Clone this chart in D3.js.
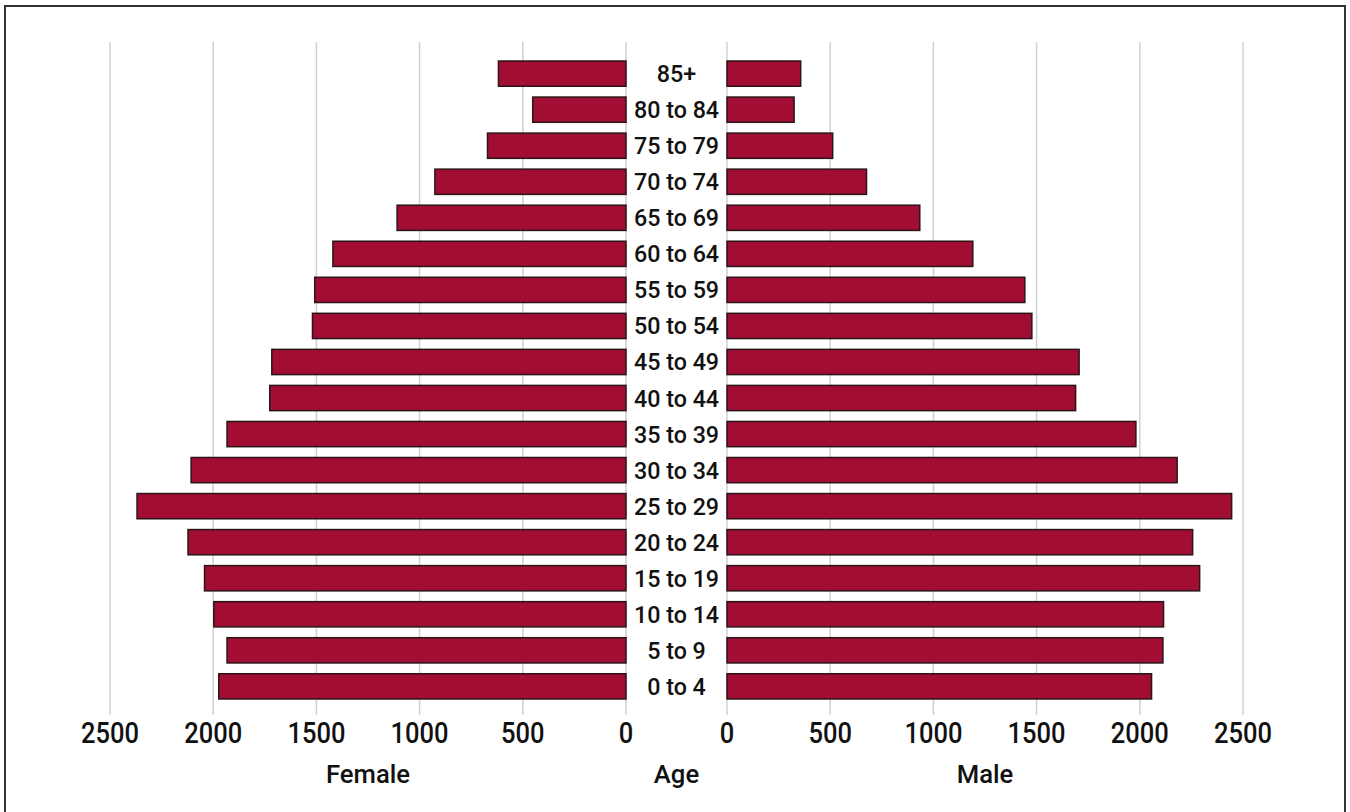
<!DOCTYPE html>
<html>
<head>
<meta charset="utf-8">
<script src="https://cdn.jsdelivr.net/npm/d3@7"></script>
<style>
  html, body { margin: 0; padding: 0; background: #fff; }
  svg { display: block; }
  text { font-family: Roboto, "DejaVu Sans", sans-serif; fill: #111; }
</style>
</head>
<body>
<svg id="chart" width="1350" height="812"></svg>
<script>
// Age groups, oldest first (top of the pyramid)
const ageGroups = ["85+", "80 to 84", "75 to 79", "70 to 74", "65 to 69", "60 to 64",
  "55 to 59", "50 to 54", "45 to 49", "40 to 44", "35 to 39", "30 to 34",
  "25 to 29", "20 to 24", "15 to 19", "10 to 14", "5 to 9", "0 to 4"];

const female = [618, 452, 671, 926, 1109, 1420, 1508, 1519, 1716, 1726,
  1933, 2107, 2369, 2122, 2042, 1997, 1933, 1973];

const male = [357, 325, 512, 676, 934, 1191, 1443, 1477, 1706, 1689,
  1981, 2181, 2445, 2256, 2290, 2115, 2112, 2057];

const tickValues = [0, 500, 1000, 1500, 2000, 2500];

const svg = d3.select("#chart");
const W = 1350, H = 812;

// Outer frame
svg.append("rect")
  .attr("x", 5).attr("y", 6)
  .attr("width", W - 10).attr("height", H + 10)
  .attr("fill", "#fff")
  .attr("stroke", "#333").attr("stroke-width", 2);

const xF = d3.scaleLinear().domain([0, 2500]).range([626, 110]);
const xM = d3.scaleLinear().domain([0, 2500]).range([727, 1243]);
const y = d3.scaleBand().domain(ageGroups).range([43, 717])
  .paddingInner(0.3).paddingOuter(0.5);

const gridTop = 42, gridBottom = 715;

// Vertical gridlines on both halves
[xF, xM].forEach(sc => {
  svg.append("g").selectAll("line")
    .data(tickValues)
    .join("line")
    .attr("x1", d => sc(d)).attr("x2", d => sc(d))
    .attr("y1", gridTop).attr("y2", gridBottom)
    .attr("stroke", "#d0d0d0").attr("stroke-width", 1.5);
});

const barFill = "#a10d33", barStroke = "#2a1518";

// Female bars grow leftwards from zero
svg.append("g").selectAll("rect")
  .data(ageGroups)
  .join("rect")
  .attr("x", (d, i) => xF(female[i]))
  .attr("y", d => y(d))
  .attr("width", (d, i) => xF(0) - xF(female[i]))
  .attr("height", y.bandwidth())
  .attr("fill", barFill).attr("stroke", barStroke).attr("stroke-width", 1.5);

// Male bars grow rightwards from zero
svg.append("g").selectAll("rect")
  .data(ageGroups)
  .join("rect")
  .attr("x", xM(0))
  .attr("y", d => y(d))
  .attr("width", (d, i) => xM(male[i]) - xM(0))
  .attr("height", y.bandwidth())
  .attr("fill", barFill).attr("stroke", barStroke).attr("stroke-width", 1.5);

// Age labels in the central gap
const midX = (xF(0) + xM(0)) / 2;
svg.append("g").selectAll("text")
  .data(ageGroups)
  .join("text")
  .attr("transform", d => `translate(${midX},${y(d) + y.bandwidth() / 2 + 8.5}) scale(0.97,1)`)
  .attr("text-anchor", "middle")
  .style("font-size", "24px")
  .style("font-weight", 500)
  .text(d => d);

// Tick labels under each half
[xF, xM].forEach(sc => {
  svg.append("g").selectAll("text")
    .data(tickValues)
    .join("text")
    .attr("transform", d => `translate(${sc(d)},743) scale(0.88,1)`)
    .attr("text-anchor", "middle")
    .style("font-size", "29px")
    .style("font-weight", 500)
    .text(d => d);
});

// Axis titles
const titles = [
  { label: "Female", x: (xF(0) + xF(2500)) / 2 },
  { label: "Age", x: midX },
  { label: "Male", x: (xM(0) + xM(2500)) / 2 }
];
svg.append("g").selectAll("text")
  .data(titles)
  .join("text")
  .attr("transform", d => `translate(${d.x},783) scale(0.97,1)`)
  .attr("text-anchor", "middle")
  .style("font-size", "26.5px")
  .style("font-weight", 500)
  .text(d => d.label);
</script>
</body>
</html>
